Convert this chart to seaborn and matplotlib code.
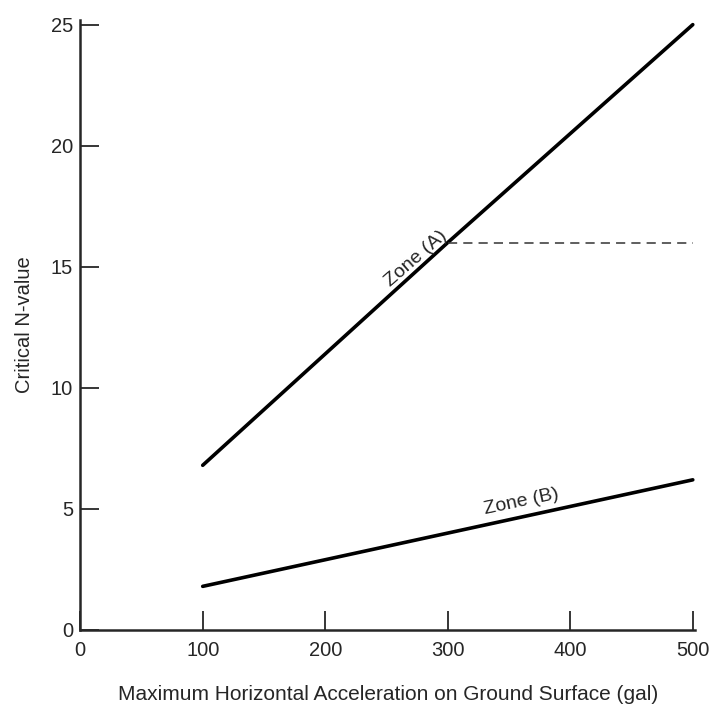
import pandas as pd
import matplotlib
matplotlib.use("Agg")
import matplotlib.pyplot as plt
import seaborn as sns

# Datos
acel = [100, 200, 300, 400, 500]
zona_a = [6.8, 11.4, 16.0, 20.5, 25.0]
zona_b = [1.8, 2.9, 4.0, 5.1, 6.2]
acel_tope = [300, 500]
tope_a = [16.0, 16.0]

df = pd.DataFrame({"acel": acel, "Zone (A)": zona_a, "Zone (B)": zona_b})
df_tope = pd.DataFrame({"acel": acel_tope, "N": tope_a})

sns.set_style("ticks")
plt.rcParams["font.family"] = ["Liberation Sans", "DejaVu Sans"]

fig = plt.figure(figsize=(7.16, 7.07), dpi=100)
ax = fig.add_axes([0.112, 0.109, 0.859, 0.863])

sns.lineplot(x="acel", y="Zone (A)", data=df, color="black", linewidth=2.6, ax=ax)
sns.lineplot(x="acel", y="Zone (B)", data=df, color="black", linewidth=2.6, ax=ax)
sns.lineplot(x="acel", y="N", data=df_tope, color="#333333", linewidth=1.1,
             linestyle=(0, (6, 4)), ax=ax)

# Etiquetas de las zonas
ax.text(274, 15.35, "Zone (A)", rotation=41, fontsize=14, ha="center", va="center")
ax.text(360, 5.3, "Zone (B)", rotation=12, fontsize=14, ha="center", va="center")

ax.set_xlim(0, 502)
ax.set_ylim(0, 25.2)
ax.set_xticks([0, 100, 200, 300, 400, 500])
ax.set_yticks([0, 5, 10, 15, 20, 25])
ax.tick_params(axis="both", direction="in", length=14, width=1.3, labelsize=14.5, pad=5)
ax.tick_params(axis="x", pad=8)
for s in ["top", "right"]:
    ax.spines[s].set_visible(False)
for s in ["left", "bottom"]:
    ax.spines[s].set_linewidth(1.8)

ax.set_xlabel("Maximum Horizontal Acceleration on Ground Surface (gal)", fontsize=15, labelpad=18)
ax.set_ylabel("Critical N-value", fontsize=14.5, labelpad=12)

fig.savefig("out.png", dpi=100)
